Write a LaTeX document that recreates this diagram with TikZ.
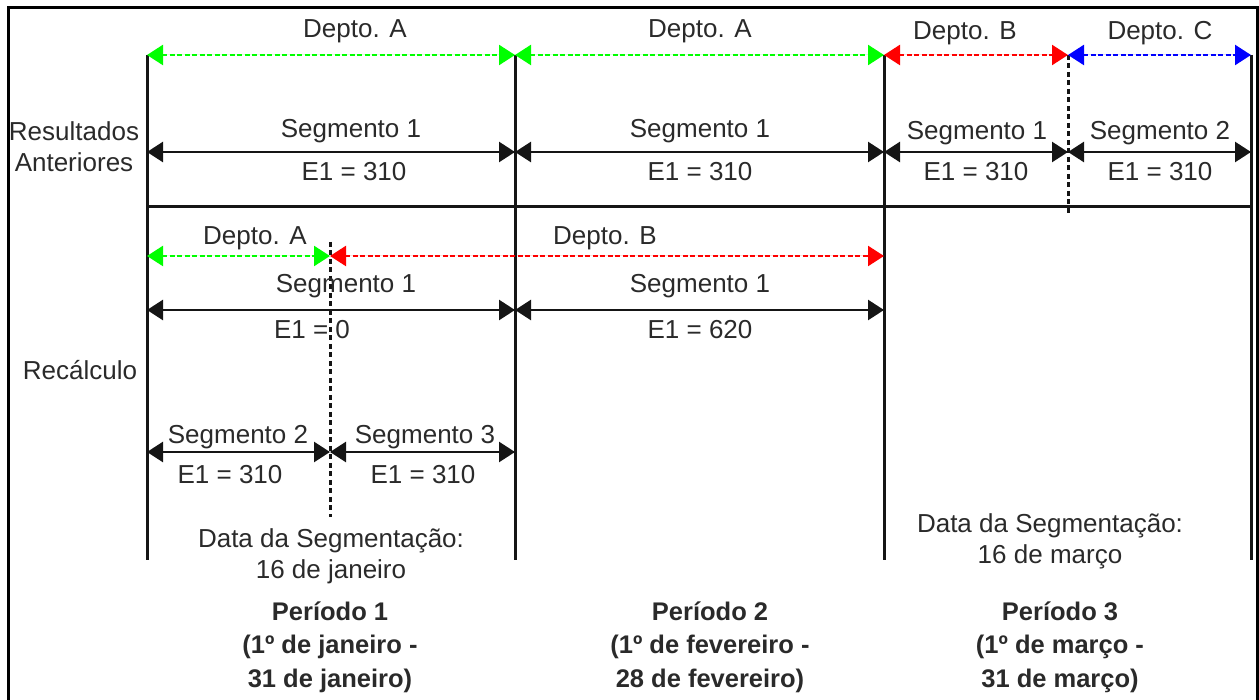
\documentclass[tikz,border=0pt]{standalone}
\usepackage{fontspec}
\setmainfont{Liberation Sans}
\usetikzlibrary{arrows.meta}
\definecolor{txtgray}{HTML}{2A2A2A}
\definecolor{linegray}{HTML}{151515}
\definecolor{dgreen}{HTML}{00FF00}
\definecolor{dred}{HTML}{FF0000}
\definecolor{dblue}{HTML}{0000FF}
\begin{document}
\begin{tikzpicture}[x=1pt,y=-1pt,
  txt/.style={text=txtgray,font=\fontsize{26}{31}\selectfont,inner sep=0pt,align=center},
  btxt/.style={text=txtgray,font=\fontsize{25.5}{33.5}\selectfont\bfseries,inner sep=0pt,align=center},
  dimarrow/.style={line width=2.6pt,draw=linegray,{Triangle[length=16pt,width=20pt]}-{Triangle[length=16pt,width=20pt]}},
  deparrow/.style={line width=2.4pt,dash pattern=on 5pt off 2.5pt,{Triangle[length=16pt,width=20pt]}-{Triangle[length=16pt,width=20pt]}},
  vline/.style={line width=3pt,draw=linegray},
  dline/.style={line width=3pt,draw=linegray,dash pattern=on 5pt off 3.5pt},
  frame/.style={line width=3pt,draw=black}]
\useasboundingbox (0,0) rectangle (1259,700);
% frame
\coordinate (f1) at (8,702);
\coordinate (f2) at (8,8);
\coordinate (f3) at (1257.5,8);
\coordinate (f4) at (1257.5,702);
\draw[frame] (f1) -- (f2) -- (f3) -- (f4);
% grid coordinates
\coordinate (a0) at (147,55);  \coordinate (a1) at (515,55);
\coordinate (a2) at (884,55);  \coordinate (a3) at (1068,55);
\coordinate (a4) at (1251,55);
\coordinate (b0) at (147,560); \coordinate (b1) at (515,560);
\coordinate (b2) at (884,560); \coordinate (b4) at (1251,560);
\coordinate (h0) at (147,207); \coordinate (h4) at (1251,207);
\coordinate (d3) at (1068,214);
\coordinate (s0) at (147,152); \coordinate (s1) at (515,152);
\coordinate (s2) at (884,152); \coordinate (s3) at (1068,152);
\coordinate (s4) at (1251,152);
\coordinate (r0) at (147,256); \coordinate (rm) at (330,256);
\coordinate (r2) at (884,256);
\coordinate (q0) at (147,310); \coordinate (q1) at (515,310);
\coordinate (q2) at (884,310);
\coordinate (p0) at (147,452); \coordinate (pm) at (330,452);
\coordinate (p1) at (515,452);
\coordinate (m0) at (330,242); \coordinate (m1) at (330,517);
% structure lines
\draw[vline] (a0) -- (b0);
\draw[vline] (a1) -- (b1);
\draw[vline] (a2) -- (b2);
\draw[vline] (a4) -- (b4);
\draw[vline] (h0) -- (h4);
\draw[dline] (a3) -- (d3);
\draw[dline] (m0) -- (m1);
% department arrows
\draw[deparrow,draw=dgreen,fill=dgreen] (a0) -- (a1);
\draw[deparrow,draw=dgreen,fill=dgreen] (a1) -- (a2);
\draw[deparrow,draw=dred,fill=dred] (a2) -- (a3);
\draw[deparrow,draw=dblue,fill=dblue] (a3) -- (a4);
\draw[deparrow,draw=dgreen,fill=dgreen] (r0) -- (rm);
\draw[deparrow,draw=dred,fill=dred] (rm) -- (r2);
% segment arrows
\draw[dimarrow,fill=linegray] (s0) -- (s1);
\draw[dimarrow,fill=linegray] (s1) -- (s2);
\draw[dimarrow,fill=linegray] (s2) -- (s3);
\draw[dimarrow,fill=linegray] (s3) -- (s4);
\draw[dimarrow,fill=linegray] (q0) -- (q1);
\draw[dimarrow,fill=linegray] (q1) -- (q2);
\draw[dimarrow,fill=linegray] (p0) -- (pm);
\draw[dimarrow,fill=linegray] (pm) -- (p1);
% labels top
\node[txt] (ta) at (355,31) {Depto. A};
\node[txt] (tb) at (700,31) {Depto. A};
\node[txt] (tc) at (965,33) {Depto. B};
\node[txt] (td) at (1160,33) {Depto. C};
\node[txt] (sa) at (351,131) {Segmento 1};
\node[txt] (sb) at (700,131) {Segmento 1};
\node[txt] (sc) at (977,133) {Segmento 1};
\node[txt] (sd) at (1160,133) {Segmento 2};
\node[txt] (ea) at (354,172) {E1 = 310};
\node[txt] (eb) at (700,172) {E1 = 310};
\node[txt] (ec) at (976,172) {E1 = 310};
\node[txt] (ed) at (1160,172) {E1 = 310};
\node[txt] (lr) at (74,147) {Resultados\\Anteriores};
\node[txt] (lc) at (80,370) {Recálculo};
% recalculation labels
\node[txt] (ra) at (255,238) {Depto. A};
\node[txt] (rb) at (605,238) {Depto. B};
\node[txt] (qa) at (346,286) {Segmento 1};
\node[txt] (qb) at (700,286) {Segmento 1};
\node[txt] (qe) at (312,330) {E1 = 0};
\node[txt] (qf) at (700,330) {E1 = 620};
\node[txt] (pa) at (238,437) {Segmento 2};
\node[txt] (pb) at (425,437) {Segmento 3};
\node[txt] (pe) at (230,475) {E1 = 310};
\node[txt] (pf) at (423,475) {E1 = 310};
\node[txt] (dj) at (331,556) {Data da Segmentação:\\16 de janeiro};
\node[txt] (dm) at (1050,541) {Data da Segmentação:\\16 de março};
% periods
\node[btxt] (per1) at (330,647) {Período 1\\(1º de janeiro -\\31 de janeiro)};
\node[btxt] (per2) at (710,647) {Período 2\\(1º de fevereiro -\\28 de fevereiro)};
\node[btxt] (per3) at (1060,647) {Período 3\\(1º de março -\\31 de março)};
\end{tikzpicture}
\end{document}
